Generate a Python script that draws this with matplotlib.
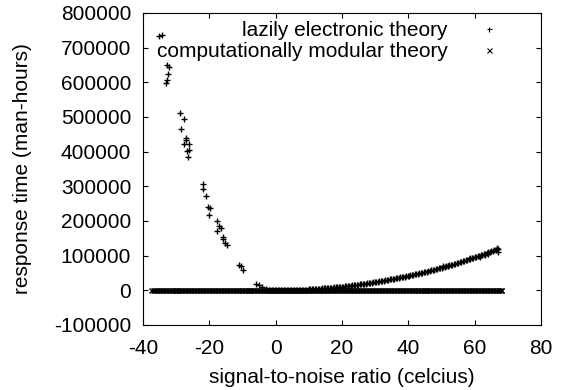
import matplotlib
matplotlib.use("Agg")
import matplotlib.pyplot as plt

plt.rcParams["font.family"] = ["Liberation Sans", "DejaVu Sans"]

# lazily electronic theory (+)
lazy_x = [
    -35.2, -34.2, -32.9, -32.1, -32.4, -32.7, -33.1, -28.9, -27.7, -28.6,
    -27.1, -26.9, -27.7, -26.1, -26.7, -26.1, -26.4, -22.0, -21.9, -21.1,
    -20.4, -19.8, -20.1, -17.8, -17.1, -16.6, -17.8, -16.0, -15.8, -15.4,
    -14.8, -11.2, -10.6, -9.8, -5.8, -5.1, -4.0, -3.0, -2.1, -1.2,
    -0.3, 0.6, 1.5, 2.4, 3.3, 4.2, 5.1, 6.0, 6.9, 7.8,
    8.7, 9.6, 10.5, 11.4, 12.3, 13.2, 14.1, 15.0, 15.9, 16.8,
    17.7, 18.6, 19.5, 20.4, 21.3, 22.2, 23.1, 24.0, 24.9, 25.8,
    26.7, 27.6, 28.5, 29.4, 30.3, 31.2, 32.1, 33.0, 33.9, 34.8,
    35.7, 36.6, 37.5, 38.4, 39.3, 40.2, 41.1, 42.0, 42.9, 43.8,
    44.7, 45.6, 46.5, 47.4, 48.3, 49.2, 50.1, 51.0, 51.9, 52.8,
    53.7, 54.6, 55.5, 56.4, 57.3, 58.2, 59.1, 60.0, 60.9, 61.8,
    62.7, 63.6, 64.5, 65.4, 66.3, 67.0, 58.5, 61.5, 63.0, 66.8,
    67.0, 64.0, 50.5, 52.0,
    -2.55, -1.65, -0.75, 0.15, 1.05, 1.95, 2.85, 3.75, 4.65, 5.55,
    6.45, 7.35, 8.25, 9.15, 10.05, 10.95, 11.85, 12.75, 13.65, 14.55,
    15.45, 16.35, 17.25, 18.15, 19.05, 19.95, 20.85, 21.75, 22.65, 23.55,
    24.45, 25.35, 26.25, 27.15, 28.05, 28.95, 29.85, 30.75, 31.65, 32.55,
    33.45, 34.35, 35.25, 36.15, 37.05, 37.95, 38.85, 39.75, 40.65, 41.55,
    42.45, 43.35, 44.25, 45.15, 46.05, 46.95, 47.85, 48.75, 49.65, 50.55,
    51.45, 52.35, 53.25, 54.15, 55.05, 55.95, 56.85, 57.75, 58.65, 59.55,
    60.45, 61.35, 62.25, 63.15, 64.05, 64.95, 65.85, 66.65,
]
lazy_y = [
    734000, 736000, 650000, 645000, 624000, 607000, 597000, 511000, 494000, 465000,
    439000, 435000, 422000, 422000, 403000, 405000, 384000, 306000, 292000, 272000,
    239000, 237000, 218000, 201000, 186000, 179000, 172000, 153000, 148000, 136000,
    130000, 74000, 71000, 59000, 19000, 15000, 11000, 3000, 1500, 600,
    100, 50, 80, 150, 300, 450, 700, 950, 1300, 1600,
    2000, 2400, 2900, 3400, 4000, 4600, 5300, 6000, 6700, 7500,
    8300, 9200, 10100, 11000, 12000, 13100, 14200, 15300, 16500, 17700,
    19000, 20200, 21600, 23000, 24400, 25900, 27400, 29000, 30600, 32200,
    33900, 35600, 37400, 39000, 40600, 42300, 44100, 45900, 47800, 49800,
    51900, 54000, 56200, 58400, 60700, 63000, 65400, 67900, 70400, 73000,
    75600, 78300, 81000, 83800, 86600, 89500, 92400, 95400, 98400, 101400,
    104500, 107600, 110700, 113800, 116900, 119000, 92000, 97000, 103000, 122000,
    111000, 105000, 70000, 70000,
    2200, 1000, 300, 40, 60, 110, 220, 380, 560, 820,
    1120, 1450, 1800, 2200, 2650, 3150, 3700, 4300, 4950, 5650,
    6350, 7100, 7900, 8750, 9650, 10550, 11500, 12550, 13650, 14750,
    15900, 17100, 18350, 19600, 20900, 22300, 23700, 25150, 26650, 28200,
    29800, 31400, 33050, 34750, 36500, 38200, 39800, 41450, 43200, 45000,
    46850, 48800, 50850, 52950, 55100, 57300, 59550, 61850, 64200, 66650,
    69150, 71700, 74300, 76950, 79650, 82400, 85200, 88050, 90950, 93900,
    96900, 99900, 102950, 106050, 109150, 112250, 115350, 117900,
]

# computationally modular theory (x)
modular_x = [
    -37.5, -37.1, -36.6, -36.2, -35.7, -35.3, -34.8, -34.4, -33.9, -33.5,
    -33.0, -32.6, -32.1, -31.7, -31.2, -30.8, -30.3, -29.9, -29.4, -29.0,
    -28.5, -28.1, -27.6, -27.2, -26.7, -26.3, -25.8, -25.4, -24.9, -24.5,
    -24.0, -23.6, -23.1, -22.7, -22.2, -21.8, -21.3, -20.9, -20.4, -20.0,
    -19.5, -19.1, -18.6, -18.2, -17.7, -17.3, -16.8, -16.4, -15.9, -15.5,
    -15.0, -14.6, -14.1, -13.7, -13.2, -12.8, -12.3, -11.9, -11.4, -11.0,
    -10.5, -10.1, -9.6, -9.2, -8.7, -8.3, -7.8, -7.4, -6.9, -6.5,
    -6.0, -5.6, -5.1, -4.7, -4.2, -3.8, -3.3, -2.9, -2.4, -2.0,
    -1.5, -1.1, -0.6, -0.2, 0.3, 0.7, 1.2, 1.6, 2.1, 2.5,
    3.0, 3.4, 3.9, 4.3, 4.8, 5.2, 5.7, 6.1, 6.6, 7.0,
    7.5, 7.9, 8.4, 8.8, 9.3, 9.7, 10.2, 10.6, 11.1, 11.5,
    12.0, 12.4, 12.9, 13.3, 13.8, 14.2, 14.7, 15.1, 15.6, 16.0,
    16.5, 16.9, 17.4, 17.8, 18.3, 18.7, 19.2, 19.6, 20.1, 20.5,
    21.0, 21.4, 21.9, 22.3, 22.8, 23.2, 23.7, 24.1, 24.6, 25.0,
    25.5, 25.9, 26.4, 26.8, 27.3, 27.7, 28.2, 28.6, 29.1, 29.5,
    30.0, 30.4, 30.9, 31.3, 31.8, 32.2, 32.7, 33.1, 33.6, 34.0,
    34.5, 34.9, 35.4, 35.8, 36.3, 36.7, 37.2, 37.6, 38.1, 38.5,
    39.0, 39.4, 39.9, 40.3, 40.8, 41.2, 41.7, 42.1, 42.6, 43.0,
    43.5, 43.9, 44.4, 44.8, 45.3, 45.7, 46.2, 46.6, 47.1, 47.5,
    48.0, 48.4, 48.9, 49.3, 49.8, 50.2, 50.7, 51.1, 51.6, 52.0,
    52.5, 52.9, 53.4, 53.8, 54.3, 54.7, 55.2, 55.6, 56.1, 56.5,
    57.0, 57.4, 57.9, 58.3, 58.8, 59.2, 59.7, 60.1, 60.6, 61.0,
    61.5, 61.9, 62.4, 62.8, 63.3, 63.7, 64.2, 64.6, 65.1, 65.5,
    66.0, 66.4, 66.9, 67.3, 67.8, 68.0, -30.1, -8.0, 14.4, 45.0,
]
modular_y = [
    120, -80, 40, 150, -120, 60, 0, -40, 90, -150,
    30, 110, -60, 0, 140, -100, 50, -20, 80, -130,
    10, 100, -70, 160, -30, 70, -110, 20, 130, -50,
    0, 90, -140, 40, 120, -90, 60, -10, 150, -60,
    30, -120, 100, 0, -80, 140, -30, 70, -150, 20,
    110, -40, 60, -100, 0, 130, -70, 90, -20, 40,
    -130, 80, 10, -60, 150, -10, 100, -110, 50, -40,
    120, 0, -90, 70, -150, 30, 140, -50, 80, -20,
    10, -100, 130, -30, 60, -140, 90, 0, -70, 110,
    -60, 40, 150, -120, 20, -10, 100, -80, 50, 130,
    -40, 70, -150, 0, 110, -90, 30, 60, -130, 90,
    -20, 140, -60, 10, 80, -110, 50, 0, -40, 70,
    100, -50, 20, -140, 60, 130, -90, 0, 40, -110,
    -30, 80, 150, -70, 10, -120, 90, 50, -10, 120,
    60, -150, 0, 110, -40, 30, -80, 140, -60, 20,
    -100, 70, 130, -20, 90, -130, 40, 0, -70, 150,
    50, -10, -110, 80, 20, -50, 120, -140, 100, 0,
    -90, 30, 60, -30, 140, -80, 10, 110, -120, 70,
    0, 130, -60, 90, -150, 40, -20, 100, 20, -100,
    150, -40, 80, 0, -70, 120, -130, 50, 10, -10,
    -120, 60, 110, -90, 30, 140, -50, 0, 70, -140,
    90, -30, 20, 130, -110, 50, -80, 150, 0, 40,
    -60, 100, -20, 80, 10, -150, 120, -40, 60, -100,
    30, -70, 140, 0, -130, 90, 20, -10, 110, -50,
]

x_ticks = [-40, -20, 0, 20, 40, 60, 80]
y_ticks = [-100000, 0, 100000, 200000, 300000, 400000, 500000, 600000, 700000, 800000]

fig = plt.figure(figsize=(5.62, 3.9), dpi=100)
ax = fig.add_axes([143 / 562, 1 - 325 / 390, 398 / 562, 312 / 390])

ax.plot(lazy_x, lazy_y, linestyle="", marker="+", markersize=4.8,
        markeredgewidth=1.0, color="black", label="lazily electronic theory")
ax.plot(modular_x, modular_y, linestyle="", marker="x", markersize=3.6,
        markeredgewidth=1.0, color="black", label="computationally modular theory")

ax.set_xlim(-40, 80)
ax.set_ylim(-100000, 800000)
ax.set_xticks(x_ticks)
ax.set_yticks(y_ticks)
ax.set_xticklabels([str(t) for t in x_ticks])
ax.set_yticklabels([str(t) for t in y_ticks])
ax.tick_params(direction="in", top=True, right=True, length=3.5, width=0.8,
               labelsize=15)
ax.tick_params(axis="x", pad=10)
ax.tick_params(axis="y", pad=8.5)
for s in ax.spines.values():
    s.set_linewidth(0.8)

ax.set_xlabel("signal-to-noise ratio (celcius)", fontsize=15, labelpad=7.5)
ax.set_ylabel("response time (man-hours)", fontsize=15, labelpad=16)

leg = ax.legend(loc="upper right", bbox_to_anchor=(1 - 31 / 398, 1 - 8 / 312),
                markerfirst=False, frameon=False, fontsize=15, borderpad=0,
                borderaxespad=0, handlelength=2, handletextpad=1, labelspacing=0.1)
for h in leg.legend_handles:
    h.set_markeredgewidth(0.8)
    h.set_markersize(3.6)

fig.savefig("out.png", dpi=100)
